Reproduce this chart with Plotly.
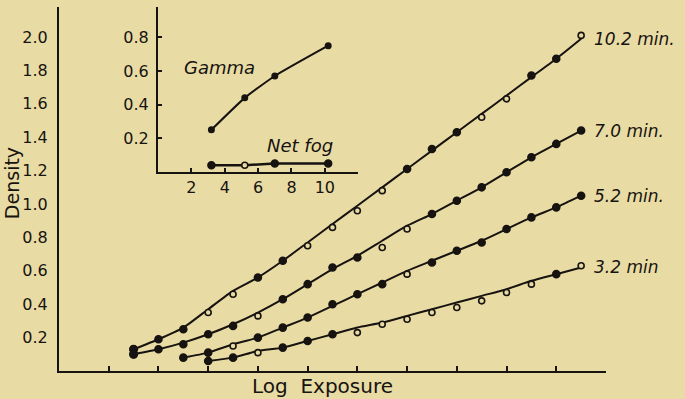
import plotly.graph_objects as go

# log exposure positions (axis ticks every 1 unit, points every half unit)
x_full = [1.5, 2.0, 2.5, 3.0, 3.5, 4.0, 4.5, 5.0, 5.5, 6.0, 6.5, 7.0, 7.5, 8.0, 8.5, 9.0, 9.5, 10.0, 10.5]
x_52 = x_full[2:]
x_32 = x_full[3:]

# 10.2 min development
d102_pts = [0.13, 0.19, 0.25, 0.35, 0.46, 0.56, 0.66, 0.75, 0.86, 0.96, 1.08, 1.21, 1.33, 1.43, 1.52, 1.63, 1.77, 1.87, 2.01]
d102_line = [0.13, 0.19, 0.26, 0.37, 0.48, 0.56, 0.66, 0.77, 0.88, 0.99, 1.10, 1.21, 1.32, 1.43, 1.54, 1.65, 1.76, 1.87, 1.99]
d102_open = [0, 0, 0, 1, 1, 0, 0, 1, 1, 1, 1, 0, 0, 0, 1, 1, 0, 0, 1]

# 7.0 min
d70_pts = [0.10, 0.13, 0.16, 0.22, 0.27, 0.33, 0.43, 0.52, 0.62, 0.68, 0.74, 0.85, 0.94, 1.02, 1.10, 1.19, 1.28, 1.36, 1.44]
d70_line = [0.10, 0.13, 0.17, 0.22, 0.28, 0.35, 0.43, 0.52, 0.61, 0.69, 0.78, 0.87, 0.94, 1.02, 1.10, 1.19, 1.28, 1.36, 1.44]
d70_open = [0, 0, 0, 0, 0, 1, 0, 0, 0, 0, 1, 1, 0, 0, 0, 0, 0, 0, 0]

# 5.2 min
d52_pts = [0.08, 0.11, 0.15, 0.20, 0.26, 0.32, 0.40, 0.46, 0.52, 0.58, 0.65, 0.72, 0.77, 0.85, 0.92, 0.98, 1.05]
d52_line = [0.08, 0.11, 0.16, 0.20, 0.26, 0.32, 0.39, 0.46, 0.53, 0.60, 0.66, 0.72, 0.78, 0.85, 0.92, 0.98, 1.05]
d52_open = [0, 0, 1, 0, 0, 0, 0, 0, 0, 1, 0, 0, 0, 0, 0, 0, 0]

# 3.2 min
d32_pts = [0.06, 0.08, 0.11, 0.14, 0.18, 0.22, 0.23, 0.28, 0.31, 0.35, 0.38, 0.42, 0.47, 0.52, 0.58, 0.63]
d32_line = [0.06, 0.08, 0.12, 0.14, 0.18, 0.22, 0.26, 0.29, 0.33, 0.37, 0.41, 0.45, 0.49, 0.54, 0.58, 0.62]
d32_open = [0, 0, 1, 0, 0, 0, 1, 1, 1, 1, 1, 1, 1, 1, 0, 1]

curve_labels = ['10.2 min.', '7.0 min.', '5.2 min.', '3.2 min']

# inset: gamma and net fog vs developing time
minutes = [3.2, 5.2, 7.0, 10.2]
gamma = [0.25, 0.44, 0.57, 0.75]
net_fog = [0.04, 0.04, 0.05, 0.05]
fog_open = [0, 1, 0, 0]

bg = '#E9DBA4'
ink = '#161310'
font = 'DejaVu Sans'

fig = go.Figure()

series = [(x_full, d102_pts, d102_line, d102_open),
          (x_full, d70_pts, d70_line, d70_open),
          (x_52, d52_pts, d52_line, d52_open),
          (x_32, d32_pts, d32_line, d32_open)]

for xs, pts, line, op in series:
    fig.add_trace(go.Scatter(x=xs, y=line, mode='lines',
                             line=dict(color=ink, width=2, shape='spline', smoothing=0.6),
                             showlegend=False, hoverinfo='skip'))
    fig.add_trace(go.Scatter(x=xs, y=pts, mode='markers',
                             marker=dict(size=[6 if o else 7 for o in op], opacity=1,
                                         color=[bg if o else ink for o in op],
                                         line=dict(color=ink, width=1.6)),
                             showlegend=False))

# big blobs where the two top curves start
fig.add_trace(go.Scatter(x=[x_full[0], x_full[0]], y=[d102_pts[0], d70_pts[0]], mode='markers',
                         marker=dict(size=9, color=ink), showlegend=False))

# inset
fig.add_trace(go.Scatter(x=minutes, y=gamma, mode='lines+markers', xaxis='x2', yaxis='y2',
                         line=dict(color=ink, width=2, shape='spline', smoothing=0.5),
                         marker=dict(size=7, color=ink), showlegend=False))
fig.add_trace(go.Scatter(x=minutes, y=net_fog, mode='lines+markers', xaxis='x2', yaxis='y2',
                         line=dict(color=ink, width=2.5),
                         marker=dict(size=[6 if o else 7 for o in fog_open], opacity=1,
                                     color=[bg if o else ink for o in fog_open],
                                     line=dict(color=ink, width=1.5)),
                         showlegend=False))

ends = [d102_line[-1], d70_line[-1], d52_line[-1], d32_line[-1]]
for lab, yv in zip(curve_labels, ends):
    fig.add_annotation(x=10.72, y=yv, xref='x', yref='y', text='<i>' + lab + '</i>',
                       showarrow=False, xanchor='left', yanchor='middle',
                       font=dict(family=font, size=17, color=ink))

fig.add_annotation(x=3.7, y=0.62, xref='x2', yref='y2', text='<i>Gamma</i>', showarrow=False,
                   xanchor='center', yanchor='middle', font=dict(family=font, size=18, color=ink))
fig.add_annotation(x=8.5, y=0.155, xref='x2', yref='y2', text='<i>Net fog</i>', showarrow=False,
                   xanchor='center', yanchor='middle', font=dict(family=font, size=18, color=ink))
fig.add_annotation(x=5.8, y=-0.19, xref='x2', yref='y2', text='Minutes', showarrow=False,
                   xanchor='center', yanchor='middle', font=dict(family=font, size=19, color=ink))
fig.add_annotation(x=0.481, y=-0.04, xref='paper', yref='paper', text='Log  Exposure', showarrow=False,
                   xanchor='center', yanchor='middle', font=dict(family=font, size=20, color=ink))
fig.add_annotation(x=-0.086, y=0.516, xref='paper', yref='paper', text='Density', textangle=-90,
                   xanchor='center', yanchor='middle', showarrow=False,
                   font=dict(family=font, size=19, color=ink))

axis_common = dict(showgrid=False, zeroline=False, showline=True, linecolor=ink, linewidth=2,
                   automargin=False, tickcolor=ink, tickfont=dict(family=font, size=16, color=ink))

fig.update_layout(
    width=685, height=399,
    margin=dict(l=59, r=79, t=7, b=28),
    paper_bgcolor=bg, plot_bgcolor=bg,
    xaxis=dict(range=[0, 11], tickvals=list(range(1, 12)), showticklabels=False,
               ticks='inside', ticklen=5, tickwidth=1.5, **axis_common),
    yaxis=dict(range=[0, 2.18], tickvals=[0.2, 0.4, 0.6, 0.8, 1.0, 1.2, 1.4, 1.6, 1.8, 2.0],
               ticktext=['0.2', '0.4', '0.6', '0.8', '1.0', '1.2', '1.4', '1.6', '1.8', '2.0'],
               ticks='', ticklabelstandoff=6, **axis_common),
    xaxis2=dict(domain=[0.181, 0.547], anchor='y2', range=[0, 12], tickvals=[2, 4, 6, 8, 10],
                ticks='inside', ticklen=4, tickwidth=1.5, **axis_common),
    yaxis2=dict(domain=[0.547, 1.0], anchor='x2', range=[0, 0.98], tickvals=[0.2, 0.4, 0.6, 0.8],
                ticktext=['0.2', '0.4', '0.6', '0.8'], ticks='inside', ticklen=4, tickwidth=1.5,
                ticklabelstandoff=4, **axis_common),
)

fig.write_html('out.html', config={'displayModeBar': False},
               post_script="document.body.style.margin='0';document.body.style.background='%s';" % bg)
